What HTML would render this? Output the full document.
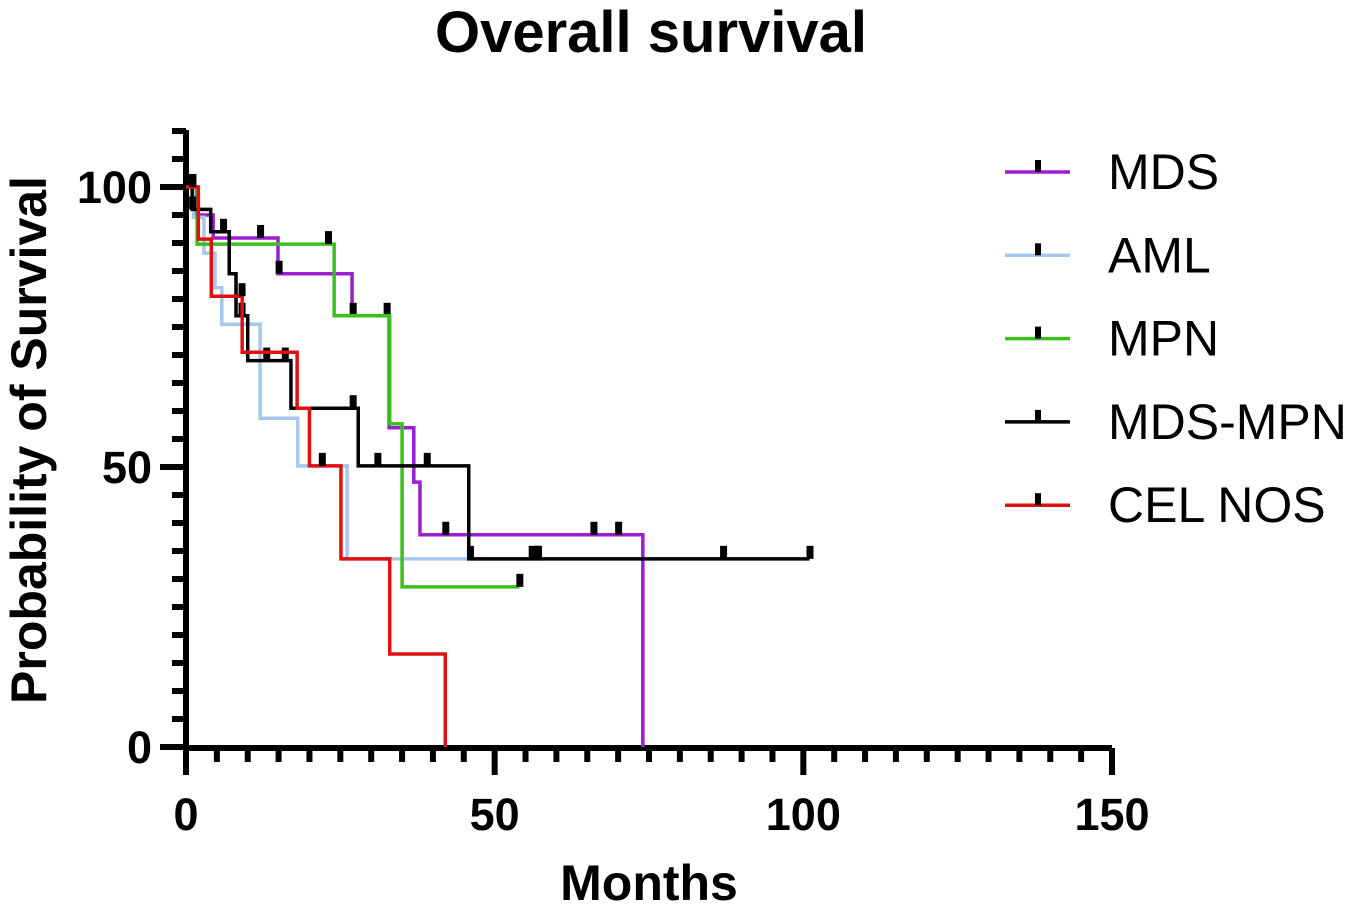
<!DOCTYPE html>
<html><head><meta charset="utf-8"><style>
body{margin:0;background:#fff;font-family:"Liberation Sans",Arial,sans-serif}
svg text{font-family:"Liberation Sans",Arial,sans-serif}
</style></head><body>
<svg id="c" width="1353" height="910" viewBox="0 0 1353 910">
<text x="651" y="52" text-anchor="middle" font-size="58" font-weight="bold">Overall survival</text>
<text transform="translate(46,440) rotate(-90)" text-anchor="middle" font-size="50" font-weight="bold">Probability of Survival</text>
<text x="649" y="900" text-anchor="middle" font-size="50" font-weight="bold">Months</text>
<g id="axes"></g><g id="series"></g><g id="legend"></g>
</svg>
<script>
const xTicks=[0,50,100,150];
const yTicks=[0,50,100];
const names=["MDS","AML","MPN","MDS-MPN","CEL NOS"];
const colors=["#9b1fd0","#a6c8ee","#3cbf1e","#000000","#e01010"];
const mdsT=[0,1.6,4.4,14.9,26.9,32.9,36.9,37.9,74];
const mdsS=[100,95,90.9,84.5,77,57,47.3,37.9,0];
const amlT=[0,1.2,2.9,4.7,5.8,12,18.1,26.1,58];
const amlS=[100,94.6,88.2,82,75.5,58.7,50.2,33.6,33.6];
const mpnT=[0,1.8,24,33,35,54];
const mpnS=[100,89.8,77,57.7,28.6,28.6];
const mmT=[0,1,4,7,8.1,10,17,27.9,45.8,101];
const mmS=[100,96,92,84.5,77,69,60.5,50.2,33.6,33.6];
const celT=[0,2,4.1,9.1,18,20,25.1,33,42];
const celS=[100,90.7,80.5,70.5,60.5,50.2,33.6,16.6,0];
const mdsC=[1,12,15,27,32.5,42,66,70];
const amlC=[1,56,57];
const mpnC=[1,23,54];
const mmC=[1,6,9,13,16,27,31,39,46,57,87,101];
const celC=[1,9,22];
const allT=[mdsT,amlT,mpnT,mmT,celT],allS=[mdsS,amlS,mpnS,mmS,celS],allC=[mdsC,amlC,mpnC,mmC,celC];
const X=v=>186+v*926/150, Y=v=>747-v*5.6;
const NS="http://www.w3.org/2000/svg";
function mk(t,a,p){const e=document.createElementNS(NS,t);for(const k in a)e.setAttribute(k,a[k]);p.appendChild(e);return e;}
const ax=document.getElementById('axes');
mk('line',{x1:186,y1:130,x2:186,y2:751,stroke:'#000','stroke-width':6},ax);
mk('line',{x1:183,y1:748,x2:1112,y2:748,stroke:'#000','stroke-width':6},ax);
for(let v=0;v<=110;v+=5){const maj=v%50==0;const l=mk('line',{x1:maj?160:172,y1:Y(v),x2:186,y2:Y(v),stroke:'#000','stroke-width':6},ax);

}
for(let v=0;v<=150;v+=5){const maj=v%50==0;const l=mk('line',{x1:X(v),y1:748,x2:X(v),y2:maj?775:762,stroke:'#000','stroke-width':6},ax);

}
yTicks.forEach(v=>{const t=mk('text',{x:152,y:Y(v)+16,'text-anchor':'end','font-size':45,'font-weight':'bold'},ax);t.textContent=v;

});
xTicks.forEach(v=>{const t=mk('text',{x:X(v),y:830,'text-anchor':'middle','font-size':45,'font-weight':'bold'},ax);t.textContent=v;

});
const sg=document.getElementById('series');
function stepAt(T,S,t){let s=S[0];for(let i=0;i<T.length;i++)if(T[i]<=t)s=S[i];return s;}
for(let k=0;k<5;k++){const T=allT[k],S=allS[k];let d=`M${X(T[0])},${Y(S[0])}`;
for(let i=1;i<T.length;i++){d+=` H${X(T[i])} V${Y(S[i])}`;}
const p=mk('path',{d:d,fill:'none',stroke:colors[k],'stroke-width':3.5},sg);


allC[k].forEach(c=>{const r=mk('rect',{x:X(c)-3,y:Y(stepAt(T,S,c))-13,width:7,height:13,fill:'#000'},sg);

});}
const lg=document.getElementById('legend');
names.forEach((n,i)=>{const y=172+i*83.3;const g=mk('g',{},lg);


mk('line',{x1:1005,y1:y,x2:1070,y2:y,stroke:colors[i],'stroke-width':3.5},g);
mk('rect',{x:1035,y:y-12,width:6,height:12,fill:'#000'},g);
const t=mk('text',{x:1108,y:y+17,'font-size':50},g);t.textContent=n;});
</script>
</body></html>
